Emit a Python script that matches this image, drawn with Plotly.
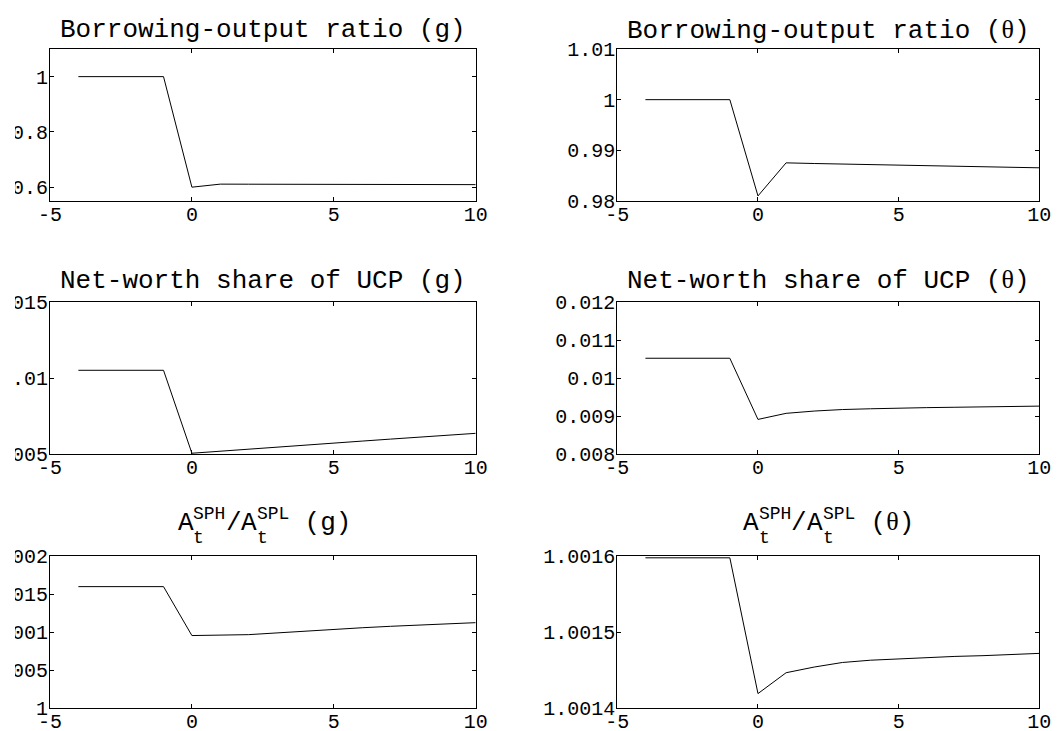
import plotly.graph_objects as go

# ---------------------------------------------------------------- data
periods = [-4, -3, -2, -1, 0, 1, 2, 3, 4, 5, 6, 7, 8, 9, 10]

borrow_g = [1.0, 1.0, 1.0, 1.0, 0.600, 0.611, 0.6108, 0.6106, 0.6104,
            0.6102, 0.6100, 0.6098, 0.6096, 0.6094, 0.6092]
borrow_theta = [1.0, 1.0, 1.0, 1.0, 0.9810, 0.98753, 0.9874, 0.98728,
                0.98715, 0.98702, 0.98692, 0.98682, 0.98673, 0.98664, 0.98655]
networth_g = [0.010507, 0.010507, 0.010507, 0.010507, 0.00505, 0.00519,
              0.00532, 0.00546, 0.00559, 0.00572, 0.00585, 0.00598,
              0.00611, 0.00624, 0.00636]
networth_theta = [0.01052, 0.01052, 0.01052, 0.01052, 0.00891, 0.00907,
                  0.00913, 0.00917, 0.00919, 0.00921, 0.00922, 0.00923,
                  0.00924, 0.00925, 0.00926]
assets_g = [1.0016, 1.0016, 1.0016, 1.0016, 1.000955, 1.00096, 1.000967,
            1.00099, 1.001015, 1.001038, 1.001058, 1.001077, 1.001095,
            1.00111, 1.001125]
assets_theta = [1.001598, 1.001598, 1.001598, 1.001598, 1.001419, 1.0014465,
                1.001454, 1.00146, 1.001463, 1.001465, 1.001467, 1.001468,
                1.001469, 1.001471, 1.001472]

x_ticks = [-5, 0, 5, 10]
x_ticktext = ["-5", "0", "5", "10"]

yt_borrow_g = [0.6, 0.8, 1.0]
yl_borrow_g = ["0.6", "0.8", "1"]
yt_borrow_theta = [0.98, 0.99, 1.0, 1.01]
yl_borrow_theta = ["0.98", "0.99", "1", "1.01"]
yt_networth_g = [0.005, 0.01, 0.015]
yl_networth_g = ["0.005", "0.01", "0.015"]
yt_networth_theta = [0.008, 0.009, 0.01, 0.011, 0.012]
yl_networth_theta = ["0.008", "0.009", "0.01", "0.011", "0.012"]
yt_assets_g = [1.0, 1.0005, 1.001, 1.0015, 1.002]
yl_assets_g = ["1", "1.0005", "1.001", "1.0015", "1.002"]
yt_assets_theta = [1.0014, 1.0015, 1.0016]
yl_assets_theta = ["1.0014", "1.0015", "1.0016"]

# ---------------------------------------------------------------- layout
W, H = 1064, 731
FONT = "Liberation Mono"
TITLE_SIZE = 26
SCRIPT_SIZE = 18
TICK_SIZE = 20

COLS = [(50, 475.7), (617.3, 1039.3)]          # pixel extents of plot boxes
ROWS = [(49, 201), (302, 454), (556.3, 708)]

panels = [
    (borrow_g, yt_borrow_g, yl_borrow_g, [0.55, 1.1]),
    (borrow_theta, yt_borrow_theta, yl_borrow_theta, [0.98, 1.01]),
    (networth_g, yt_networth_g, yl_networth_g, [0.005, 0.015]),
    (networth_theta, yt_networth_theta, yl_networth_theta, [0.008, 0.012]),
    (assets_g, yt_assets_g, yl_assets_g, [1.0, 1.002]),
    (assets_theta, yt_assets_theta, yl_assets_theta, [1.0014, 1.0016]),
]

fig = go.Figure()
layout = dict(
    width=W, height=H,
    margin=dict(l=0, r=0, t=0, b=0, autoexpand=False),
    paper_bgcolor="white", plot_bgcolor="white",
    showlegend=False,
    font=dict(family=FONT, size=TICK_SIZE, color="black"),
)

axis_style = dict(
    showline=True, linecolor="black", linewidth=1, mirror="ticks",
    ticks="inside", ticklen=4, tickwidth=1, tickcolor="black",
    showgrid=False, zeroline=False, automargin=False,
    tickfont=dict(family=FONT, size=TICK_SIZE, color="black"),
)

for i, (vals, yt, yl, yr) in enumerate(panels):
    r, c = divmod(i, 2)
    n = "" if i == 0 else str(i + 1)
    x0, x1 = COLS[c]
    y0, y1 = ROWS[r]
    fig.add_trace(go.Scatter(
        x=periods, y=vals, mode="lines",
        line=dict(color="black", width=1),
        xaxis="x" + n, yaxis="y" + n, hoverinfo="skip",
    ))
    layout["xaxis" + n] = dict(
        axis_style, domain=[x0 / W, x1 / W], range=[-5, 10],
        tickvals=x_ticks, ticktext=x_ticktext, anchor="y" + n,
        ticklabelstandoff=-5,
    )
    layout["yaxis" + n] = dict(
        axis_style, domain=[1 - y1 / H, 1 - y0 / H], range=yr,
        tickvals=yt, ticktext=yl, anchor="x" + n,
        ticklabelstandoff=-3,
    )


def label(text, xpx, ypx, size, xanchor="center"):
    return dict(
        text=text, x=xpx / W, y=1 - ypx / H, xref="paper", yref="paper",
        xanchor=xanchor, yanchor="middle", showarrow=False,
        font=dict(family=FONT, size=size, color="black"),
    )


THETA = "<span style='font-family:Liberation Serif'>θ</span>"
annotations = []
centers = [(a + b) / 2 for a, b in COLS]

# plain titles for the first two rows
row_titles = [
    ("Borrowing-output ratio (g)", "Borrowing-output ratio (" + THETA + ")", 30),
    ("Net-worth share of UCP (g)", "Net-worth share of UCP (" + THETA + ")", 281),
]
for left_t, right_t, ypx in row_titles:
    annotations.append(label(left_t, centers[0], ypx, TITLE_SIZE))
    annotations.append(label(right_t, centers[1], ypx, TITLE_SIZE))


# A_t^{SPH}/A_t^{SPL} titles: scripts stacked above/below each "A"
def ratio_title(cx, tail):
    big = 0.6 * TITLE_SIZE
    small = 0.6 * SCRIPT_SIZE
    total = 7 * big + 6 * small
    s = cx - total / 2
    y_main, y_sup, y_sub = 522.5, 513.5, 538
    out = []
    pos = s
    for sup in ("SPH", "SPL"):
        if sup == "SPL":
            out.append(label("/", pos, y_main, TITLE_SIZE, "left"))
            pos += big
        out.append(label("A", pos, y_main, TITLE_SIZE, "left"))
        pos += big
        out.append(label(sup, pos, y_sup, SCRIPT_SIZE, "left"))
        out.append(label("t", pos, y_sub, SCRIPT_SIZE, "left"))
        pos += 3 * small
    out.append(label(" " + tail, pos, y_main, TITLE_SIZE, "left"))
    return out


annotations += ratio_title(centers[0], "(g)")
annotations += ratio_title(centers[1], "(" + THETA + ")")

layout["annotations"] = annotations
# left page border hides the overflow of the long left-column tick labels
layout["shapes"] = [dict(
    type="rect", xref="paper", yref="paper", x0=0, x1=15 / W, y0=0, y1=1,
    fillcolor="white", line=dict(width=0), layer="above",
)]

fig.update_layout(**layout)
fig.write_html("out.html")
